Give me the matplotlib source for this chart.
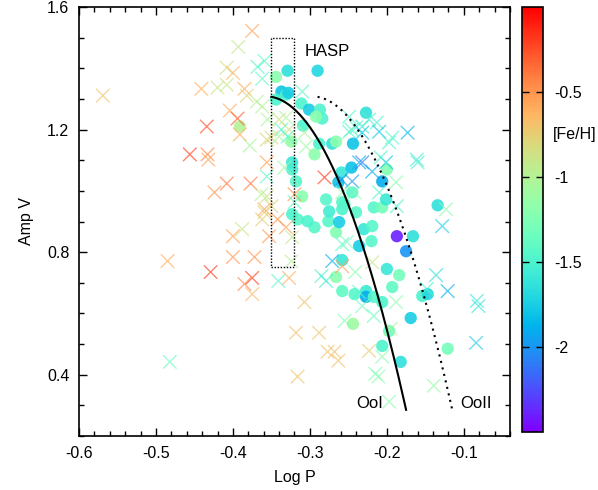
import numpy as np
import matplotlib
matplotlib.use('Agg')
import matplotlib.pyplot as plt
from matplotlib.colors import ListedColormap

plt.rcParams['font.family'] = ['Liberation Sans', 'DejaVu Sans']
plt.rcParams['axes.unicode_minus'] = False

# filled circles: log P, amplitude V, [Fe/H]
circ_logp = [-0.329, -0.290, -0.344, -0.337, -0.331, -0.328, -0.344, -0.311, -0.301, -0.287,
             -0.284, -0.292, -0.309, -0.227, -0.324, -0.288, -0.294, -0.271, -0.266, -0.244,
             -0.323, -0.323, -0.318, -0.310, -0.323, -0.316, -0.294, -0.276, -0.279, -0.275,
             -0.266, -0.259, -0.263, -0.258, -0.258, -0.246, -0.245, -0.240, -0.230, -0.219,
             -0.220, -0.236, -0.206, -0.200, -0.217, -0.206, -0.201, -0.187, -0.166, -0.175,
             -0.134, -0.255, -0.262, -0.258, -0.266, -0.258, -0.242, -0.227, -0.227, -0.217,
             -0.206, -0.200, -0.184, -0.193, -0.169, -0.197, -0.206, -0.182, -0.121, -0.154,
             -0.147, -0.244, -0.391, -0.303]
circ_amp = [1.392, 1.392, 1.372, 1.324, 1.314, 1.320, 1.298, 1.285, 1.265, 1.265,
            1.236, 1.242, 1.213, 1.255, 1.161, 1.154, 1.119, 1.154, 1.161, 1.154,
            1.093, 1.070, 1.031, 0.982, 0.924, 0.907, 0.881, 0.901, 0.972, 0.933,
            0.865, 1.060, 1.028, 0.963, 0.940, 1.076, 0.995, 0.930, 0.875, 0.885,
            0.836, 0.820, 1.031, 1.070, 0.946, 0.946, 0.972, 0.852, 0.852, 0.803,
            0.953, 0.956, 0.898, 0.774, 0.719, 0.673, 0.663, 0.673, 0.654, 0.654,
            0.637, 0.745, 0.725, 0.686, 0.585, 0.543, 0.494, 0.442, 0.485, 0.657,
            0.663, 0.566, 1.210, 0.901]
circ_feh = [-1.65, -1.7, -1.2, -1.8, -1.5, -1.75, -1.5, -1.5, -1.75, -1.5,
            -1.5, -1.2, -1.5, -1.65, -1.15, -1.5, -1.2, -1.65, -1.2, -1.8,
            -1.6, -1.55, -1.45, -1.2, -1.5, -1.45, -1.45, -1.45, -1.45, -1.55,
            -1.25, -1.6, -1.8, -1.45, -1.5, -1.8, -1.45, -1.45, -1.6, -1.45,
            -1.45, -1.75, -1.9, -1.25, -1.45, -1.3, -1.6, -2.4, -1.65, -2.0,
            -1.65, -1.45, -1.75, -1.6, -1.2, -1.4, -1.45, -1.6, -1.9, -1.45,
            -1.5, -1.6, -1.3, -1.4, -1.75, -1.35, -1.5, -1.65, -1.3, -1.5,
            -1.7, -1.1, -1.0, -1.5]

# crosses: log P, amplitude V, [Fe/H]
x_logp = [-0.569, -0.375, -0.393, -0.359, -0.362, -0.408, -0.400, -0.441, -0.420, -0.408,
          -0.385, -0.382, -0.369, -0.404, -0.394, -0.434, -0.391, -0.378, -0.356, -0.456,
          -0.433, -0.432, -0.356, -0.356, -0.408, -0.377, -0.424, -0.356, -0.359, -0.362,
          -0.342, -0.331, -0.400, -0.388, -0.353, -0.485, -0.400, -0.372, -0.429, -0.375,
          -0.385, -0.375, -0.341, -0.327, -0.482, -0.318, -0.316, -0.324, -0.307, -0.288,
          -0.277, -0.271, -0.258, -0.285, -0.279, -0.241, -0.268, -0.263, -0.223, -0.255,
          -0.236, -0.232, -0.217, -0.188, -0.219, -0.258, -0.195, -0.206, -0.215, -0.211,
          -0.197, -0.139, -0.136, -0.148, -0.121, -0.083, -0.081, -0.084, -0.331, -0.327,
          -0.310, -0.355, -0.340, -0.337, -0.350, -0.340, -0.329, -0.362, -0.307, -0.305,
          -0.249, -0.240, -0.232, -0.213, -0.210, -0.197, -0.193, -0.173, -0.160, -0.236,
          -0.232, -0.219, -0.245, -0.210, -0.201, -0.188, -0.281, -0.123, -0.128, -0.187,
          -0.333, -0.363, -0.350, -0.359, -0.323, -0.320, -0.320, -0.259, -0.258, -0.242,
          -0.252, -0.246, -0.223, -0.232, -0.208, -0.161, -0.249, -0.368]
x_amp = [1.311, 1.522, 1.470, 1.424, 1.366, 1.402, 1.385, 1.333, 1.337, 1.346,
         1.333, 1.311, 1.291, 1.262, 1.236, 1.210, 1.184, 1.148, 1.167, 1.119,
         1.119, 1.102, 1.093, 1.047, 1.024, 1.024, 0.995, 0.982, 0.940, 0.907,
         0.907, 0.881, 0.852, 0.875, 0.852, 0.771, 0.784, 0.784, 0.735, 0.716,
         0.696, 0.663, 0.706, 0.716, 0.442, 0.537, 0.394, 0.770, 0.637, 0.537,
         0.475, 0.771, 0.754, 0.722, 0.706, 0.735, 0.475, 0.446, 0.478, 0.576,
         0.670, 0.624, 0.592, 0.637, 0.767, 0.826, 0.550, 0.459, 0.403, 0.394,
         0.312, 0.364, 0.725, 0.680, 0.673, 0.641, 0.624, 0.504, 1.239, 1.200,
         1.324, 1.233, 1.233, 1.200, 1.174, 1.177, 1.177, 1.275, 1.190, 1.145,
         1.193, 1.207, 1.210, 1.223, 1.193, 1.158, 1.174, 1.190, 1.093, 1.093,
         1.093, 1.063, 1.031, 0.995, 1.093, 1.028, 1.044, 0.940, 0.885, 0.950,
         1.076, 0.989, 0.950, 0.930, 0.849, 0.989, 0.963, 1.037, 0.995, 0.995,
         0.833, 1.200, 1.233, 1.190, 1.109, 1.102, 1.242, 1.405]
x_feh = [-0.7, -0.55, -0.9, -1.4, -1.4, -0.85, -0.65, -0.6, -0.9, -0.9,
         -0.6, -0.8, -1.0, -0.6, -0.3, -0.25, -0.6, -1.05, -0.8, -0.2,
         -0.45, -0.55, -0.55, -1.4, -0.4, -0.4, -0.5, -0.85, -0.55, -0.75,
         -0.5, -0.55, -0.55, -0.9, -0.5, -0.6, -0.5, -0.5, -0.2, -0.2,
         -0.45, -0.65, -1.45, -0.6, -1.35, -0.7, -0.7, -1.0, -0.7, -0.7,
         -0.7, -1.9, -0.55, -1.5, -1.55, -1.2, -0.7, -0.7, -0.75, -1.25,
         -1.45, -1.3, -1.35, -1.2, -0.9, -1.45, -0.95, -1.2, -1.25, -1.2,
         -1.2, -1.15, -1.65, -1.5, -1.9, -1.6, -1.6, -1.75, -1.05, -0.85,
         -1.45, -1.05, -0.85, -1.45, -0.8, -1.05, -1.45, -1.0, -1.05, -1.1,
         -1.45, -1.5, -1.6, -1.5, -1.8, -1.5, -1.45, -1.85, -1.5, -1.9,
         -2.1, -1.9, -2.0, -1.5, -1.8, -1.2, -0.2, -1.2, -1.75, -1.5,
         -1.1, -1.0, -0.8, -0.75, -0.9, -0.5, -1.4, -2.0, -1.2, -1.2,
         -1.3, -1.45, -1.5, -1.8, -1.5, -1.55, -1.45, -1.45]

# Oosterhoff loci: A_V = c0 + c1*logP + c2*logP^2 (OoII shifted in log P)
oo_coef = [-2.627, -22.046, -30.876]
oo2_shift = 0.06
ooi_range = (-0.35, -0.175)
ooii_range = (-0.29, -0.115)

# HASP box
hasp_x = (-0.35, -0.32)
hasp_y = (0.75, 1.50)

# gnuplot-like rgbformulae 33,13,10 palette
t = np.linspace(0, 1, 256)
pal = np.column_stack([np.clip(np.abs(2 * t - 0.5), 0, 1),
                       np.sin(np.pi * t),
                       np.cos(np.pi * t / 2)])
cmap = ListedColormap(pal)
vmin, vmax = -2.5, 0.0

fs = 11.5

fig = plt.figure(figsize=(5.98, 4.90), dpi=100)
ax = fig.add_axes([0.1321, 0.1102, 0.7207, 0.8755])
cax = fig.add_axes([0.8729, 0.1184, 0.0351, 0.8673])

sc = ax.scatter(circ_logp, circ_amp, c=circ_feh, cmap=cmap, vmin=vmin, vmax=vmax,
                s=78, marker='o', edgecolors='none', alpha=0.9, zorder=2)
ax.scatter(x_logp, x_amp, c=x_feh, cmap=cmap, vmin=vmin, vmax=vmax,
           s=95, marker='x', linewidths=1.0, alpha=0.65, zorder=3)

c0, c1, c2 = oo_coef
lp = np.linspace(ooi_range[0], ooi_range[1], 200)
ax.plot(lp, c0 + c1 * lp + c2 * lp ** 2, color='black', lw=1.5, zorder=4)
lp2 = np.linspace(ooii_range[0], ooii_range[1], 200)
s2 = lp2 - oo2_shift
ax.plot(lp2, c0 + c1 * s2 + c2 * s2 ** 2, color='black', lw=1.5,
        linestyle=(0, (1, 2.2)), zorder=4)

ax.plot([hasp_x[0], hasp_x[1], hasp_x[1], hasp_x[0], hasp_x[0]],
        [hasp_y[0], hasp_y[0], hasp_y[1], hasp_y[1], hasp_y[0]],
        color='black', lw=1.0, linestyle=(0, (1, 1.2)), zorder=4)

ax.text(-0.307, 1.454, 'HASP', fontsize=12, ha='left', va='center')
ax.text(-0.240, 0.306, 'OoI', fontsize=12, ha='left', va='center')
ax.text(-0.105, 0.306, 'OoII', fontsize=12, ha='left', va='center')

ax.set_xlim(-0.6, -0.04)
ax.set_ylim(0.2, 1.6)
ax.set_xticks([-0.6, -0.5, -0.4, -0.3, -0.2, -0.1])
ax.set_xticklabels(['-0.6', '-0.5', '-0.4', '-0.3', '-0.2', '-0.1'])
ax.set_xticks(np.arange(-0.6, -0.039, 0.02), minor=True)
ax.set_yticks([0.4, 0.8, 1.2, 1.6])
ax.set_yticklabels(['0.4', '0.8', '1.2', '1.6'])
ax.set_yticks(np.arange(0.2, 1.61, 0.1), minor=True)
ax.tick_params(which='both', direction='in', top=True, right=True, labelsize=fs, width=1)
ax.tick_params(which='major', length=6, pad=7)
ax.tick_params(which='minor', length=3.5)
for sp in ax.spines.values():
    sp.set_linewidth(1.2)
ax.set_xlabel('Log P', fontsize=fs, labelpad=7)
ax.set_ylabel('Amp V', fontsize=fs, labelpad=9)

cb = fig.colorbar(sc, cax=cax)
cb.solids.set_alpha(1)
cb.set_ticks([-2, -1.5, -1, -0.5])
cb.set_ticklabels(['-2', '-1.5', '-1', '-0.5'])
cax.tick_params(direction='in', left=True, right=True, length=5, width=1,
                labelsize=fs, pad=8)
cb.outline.set_linewidth(1.2)
cax.text(1.45, -0.75, '[Fe/H]', fontsize=fs, ha='left', va='center',
         transform=cax.get_yaxis_transform())

fig.savefig('out.png', dpi=100)
